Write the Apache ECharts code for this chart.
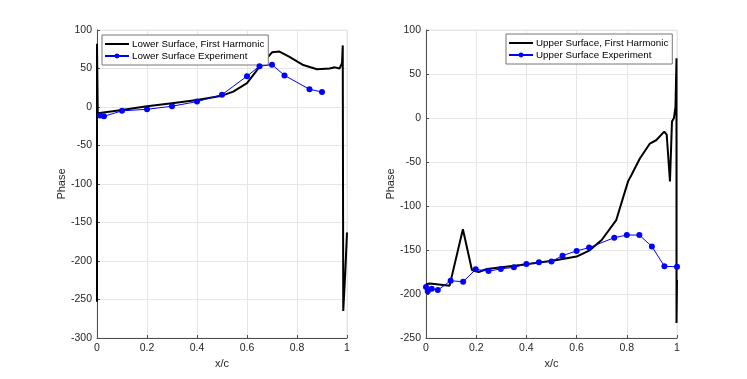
<!DOCTYPE html>
<html>
<head>
<meta charset="utf-8">
<script src="https://cdn.jsdelivr.net/npm/echarts@6/dist/echarts.min.js"></script>
<style>
  html, body { margin: 0; padding: 0; background: #fff; }
  #chart { width: 747px; height: 379px; }
</style>
</head>
<body>
<div id="chart"></div>
<script>
// lower surface, harmonic (black line)
var lowerHarmX = [0, 0, 0.003, 0.1, 0.2, 0.3, 0.4, 0.5, 0.545, 0.6, 0.65, 0.7, 0.73, 0.77, 0.825, 0.88, 0.93, 0.952, 0.97, 0.98, 0.983, 0.985, 0.993, 1.0];
var lowerHarmY = [-253, 82, -8, -4, 1, 5, 9, 14.7, 20, 31, 52, 71, 72, 65, 54.5, 49, 50, 51.5, 50, 57, 80, -265, -215, -163];

// lower surface, experiment (blue markers)
var lowerExpX = [0.012, 0.028, 0.1, 0.2, 0.3, 0.4, 0.5, 0.6, 0.65, 0.7, 0.75, 0.85, 0.9];
var lowerExpY = [-11, -12, -5, -3, 1, 7, 16, 40, 53, 55, 41, 23, 19.5];

// upper surface, harmonic
var upperHarmX = [0, 0.016, 0.094, 0.147, 0.183, 0.21, 0.243, 0.377, 0.51, 0.6, 0.65, 0.7, 0.758, 0.805, 0.818, 0.852, 0.892, 0.918, 0.949, 0.959, 0.972, 0.98, 0.988, 0.994, 0.998, 0.998, 1.0];
var upperHarmY = [-189, -188, -190.5, -126.5, -172.7, -175, -171.6, -167, -162, -157.5, -150.7, -138.6, -116, -72, -65, -46, -29, -25, -15.5, -19, -72, -4, 0, 13, 68, -233, -184];

// upper surface, experiment
var upperExpX = [0, 0.007, 0.023, 0.047, 0.098, 0.148, 0.198, 0.249, 0.298, 0.35, 0.4, 0.45, 0.5, 0.544, 0.6, 0.65, 0.75, 0.8, 0.85, 0.9, 0.95, 1.0];
var upperExpY = [-192, -197, -194, -195.5, -185, -186, -172, -174, -171.5, -169.7, -166, -164, -163, -156.4, -151, -147.3, -136, -133, -133, -146, -168.6, -169];

var leftYRange = [-300, 100];
var rightYRange = [-250, 100];

function pairs(xs, ys) {
    return xs.map(function (x, i) { return [x, ys[i]]; });
}

var font = 'Liberation Sans, Arial, sans-serif';
var gridColor = '#e6e6e6';
var axisColor = '#4d4d4d';

function xAxis(idx) {
    return {
        type: 'value', gridIndex: idx, min: 0, max: 1, interval: 0.2,
        name: 'x/c', nameLocation: 'middle', nameGap: 17,
        nameTextStyle: { fontFamily: font, fontSize: 11, color: '#262626' },
        axisLine: { show: true, onZero: false, lineStyle: { color: axisColor } },
        axisTick: { show: true, inside: true, length: 3, lineStyle: { color: axisColor } },
        axisLabel: { fontFamily: font, fontSize: 10.5, color: '#262626', margin: 5,
            formatter: function (v) { return String(Math.round(v * 10) / 10); } },
        splitLine: { show: true, lineStyle: { color: gridColor } }
    };
}

function yAxis(idx, range) {
    return {
        type: 'value', gridIndex: idx, min: range[0], max: range[1], interval: 50,
        name: 'Phase', nameLocation: 'middle', nameGap: 29,
        nameTextStyle: { fontFamily: font, fontSize: 11, color: '#262626' },
        axisLine: { show: true, onZero: false, lineStyle: { color: axisColor } },
        axisTick: { show: true, inside: true, length: 3, lineStyle: { color: axisColor } },
        axisLabel: { fontFamily: font, fontSize: 10.5, color: '#262626', margin: 5 },
        splitLine: { show: true, lineStyle: { color: gridColor } }
    };
}

function legend(left, top, names) {
    return {
        left: left, top: top, orient: 'vertical',
        data: [
            { name: names[0], itemStyle: { opacity: 0 } },
            { name: names[1] }
        ],
        itemWidth: 24, itemHeight: 6, itemGap: 2,
        padding: [4, 4, 4, 2],
        borderColor: '#777', borderWidth: 1, backgroundColor: '#fff',
        textStyle: { fontFamily: font, fontSize: 9.8, lineHeight: 10, color: '#000', padding: [0, 0, 0, -2] }
    };
}

var chart = echarts.init(document.getElementById('chart'));

chart.setOption({
    animation: false,
    backgroundColor: '#fff',
    grid: [
        { left: 97, right: 400, top: 30, bottom: 41, show: true, borderColor: gridColor, borderWidth: 1 },
        { left: 426, right: 70, top: 30, bottom: 41, show: true, borderColor: gridColor, borderWidth: 1 }
    ],
    legend: [
        legend(102, 35, ['Lower Surface, First Harmonic', 'Lower Surface Experiment']),
        legend(506, 34, ['Upper Surface, First Harmonic', 'Upper Surface Experiment'])
    ],
    xAxis: [xAxis(0), xAxis(1)],
    yAxis: [yAxis(0, leftYRange), yAxis(1, rightYRange)],
    series: [
        {
            name: 'Lower Surface, First Harmonic', type: 'line', xAxisIndex: 0, yAxisIndex: 0,
            data: pairs(lowerHarmX, lowerHarmY), showSymbol: false, symbol: 'none',
            lineStyle: { color: '#000', width: 2 }, itemStyle: { color: '#000' }, z: 3
        },
        {
            name: 'Lower Surface Experiment', type: 'line', xAxisIndex: 0, yAxisIndex: 0,
            data: pairs(lowerExpX, lowerExpY), symbol: 'circle', symbolSize: 6,
            lineStyle: { color: '#0000ff', width: 1 }, itemStyle: { color: '#0000ff' }, z: 4
        },
        {
            name: 'Upper Surface, First Harmonic', type: 'line', xAxisIndex: 1, yAxisIndex: 1,
            data: pairs(upperHarmX, upperHarmY), showSymbol: false, symbol: 'none',
            lineStyle: { color: '#000', width: 2 }, itemStyle: { color: '#000' }, z: 3
        },
        {
            name: 'Upper Surface Experiment', type: 'line', xAxisIndex: 1, yAxisIndex: 1,
            data: pairs(upperExpX, upperExpY), symbol: 'circle', symbolSize: 6,
            lineStyle: { color: '#0000ff', width: 1 }, itemStyle: { color: '#0000ff' }, z: 4
        }
    ]
});
</script>
</body>
</html>
